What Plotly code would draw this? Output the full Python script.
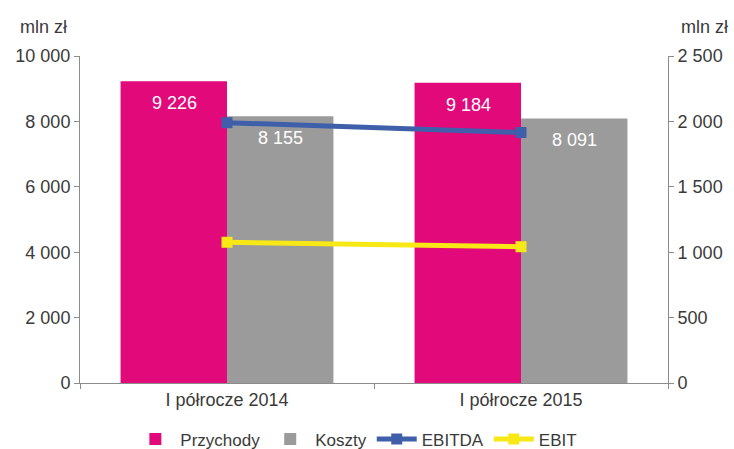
import plotly.graph_objects as go

categories = ["I półrocze 2014", "I półrocze 2015"]
przychody = [9226, 9184]
koszty = [8155, 8091]
ebitda = [1990, 1915]
ebit = [1076, 1042]
left_ticks = [0, 2000, 4000, 6000, 8000, 10000]
right_ticks = [0, 500, 1000, 1500, 2000, 2500]

PINK = "#E2097A"
GRAY = "#9B9B9B"
BLUE = "#3F5FAA"
YELLOW = "#F7E816"
FONT = "Liberation Sans, Arial, sans-serif"
TXT = "#3a3a3a"
FS = 18

fig = go.Figure()
fig.add_trace(go.Bar(name="Przychody", x=categories, y=przychody, marker_color=PINK,
                     marker_line_width=0))
fig.add_trace(go.Bar(name="Koszty", x=categories, y=koszty, marker_color=GRAY,
                     marker_line_width=0))
fig.add_trace(go.Scatter(name="EBITDA", x=categories, y=ebitda, yaxis="y2",
                         mode="lines+markers", line=dict(color=BLUE, width=5),
                         marker=dict(symbol="square", size=11, color=BLUE)))
fig.add_trace(go.Scatter(name="EBIT", x=categories, y=ebit, yaxis="y2",
                         mode="lines+markers", line=dict(color=YELLOW, width=5),
                         marker=dict(symbol="square", size=11, color=YELLOW)))

def fmt(v):
    return f"{v:,}".replace(",", " ")

for i, c in enumerate(categories):
    for vals, shift in ((przychody, -53), (koszty, 53)):
        fig.add_annotation(x=c, y=vals[i], xref="x", yref="y", text=fmt(vals[i]),
                           showarrow=False, xshift=shift, yshift=-22,
                           yanchor="middle", font=dict(color="white", size=FS, family=FONT))

fig.add_annotation(x=0, y=1, xref="paper", yref="paper", xanchor="right", yanchor="bottom",
                   text="mln zł", showarrow=False, xshift=-11, yshift=17,
                   font=dict(size=FS, color=TXT, family=FONT))
fig.add_annotation(x=1, y=1, xref="paper", yref="paper", xanchor="left", yanchor="bottom",
                   text="mln zł", showarrow=False, xshift=11, yshift=17,
                   font=dict(size=FS, color=TXT, family=FONT))

fig.update_layout(
    width=734, height=449,
    margin=dict(l=80, r=66, t=56, b=66),
    paper_bgcolor="white", plot_bgcolor="white",
    barmode="group", bargap=0.276, bargroupgap=0,
    separators=", ",
    font=dict(family=FONT, size=FS, color=TXT),
    showlegend=True,
    legend=dict(orientation="h", x=0.47, xanchor="center", yref="container", y=0.021,
                yanchor="middle", font=dict(size=17, color=TXT, family=FONT), itemwidth=40,
                traceorder="normal", bgcolor="rgba(0,0,0,0)"),
    xaxis=dict(type="category", showline=True, linecolor="#8c8c8c", linewidth=1,
               ticks="outside", tickson="boundaries", ticklen=5, tickcolor="#8c8c8c",
               showgrid=False, tickfont=dict(size=FS, color=TXT)),
    yaxis=dict(range=[0, 10000], tickvals=left_ticks, tickformat=",d", showline=True,
               linecolor="#8c8c8c", ticks="outside", ticklen=5, tickcolor="#8c8c8c",
               showgrid=False, zeroline=False, tickfont=dict(size=FS, color=TXT)),
    yaxis2=dict(range=[0, 2500], tickvals=right_ticks, tickformat=",d", overlaying="y",
                side="right", showline=True, linecolor="#8c8c8c", ticks="outside",
                ticklen=5, tickcolor="#8c8c8c", showgrid=False, zeroline=False,
                tickfont=dict(size=FS, color=TXT)),
)

fig.write_html("out.html", config={"displayModeBar": False},
               post_script="document.body.style.margin='0px';")
